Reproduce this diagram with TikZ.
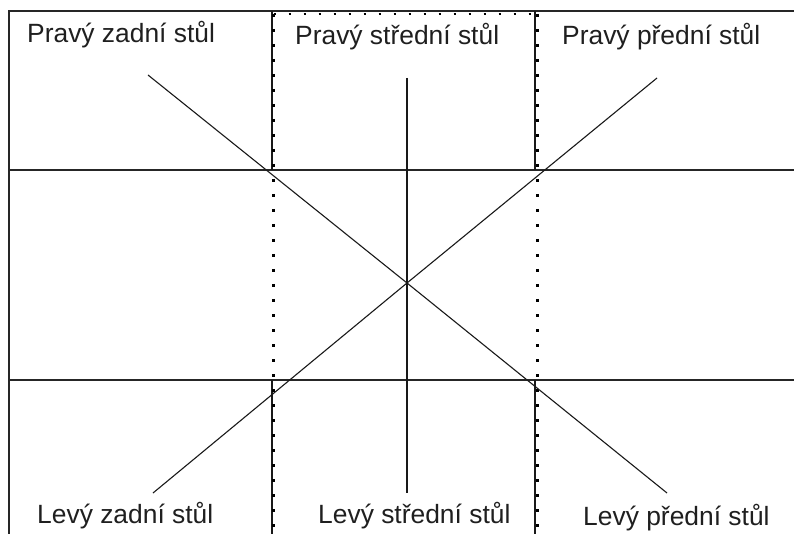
\documentclass[tikz,border=0pt]{standalone}
\usepackage{fontspec}
\setmainfont{Liberation Sans}
\begin{document}
\begin{tikzpicture}[x=1pt,y=-1pt,
  frame/.style={line width=2pt,color=black!85},
  hline/.style={line width=1.5pt,color=black!85},
  diag/.style={line width=1.1pt,color=black!90},
  sep/.style={line width=1.8pt,color=black!90},
  dots/.style={line width=2.6pt,color=black,dash pattern=on 2.6pt off 12.4pt},
  lbl/.style={anchor=base west,inner sep=0pt,font=\fontsize{26.4}{30}\selectfont,text=black!88}]
\useasboundingbox (0,0) rectangle (794,534);
% frame
\coordinate (tl) at (9,11);
\coordinate (tr) at (794,11);
\coordinate (bl) at (9,534);
\draw[frame] (tr) -- (tl) -- (bl);
% horizontal lines
\coordinate (h1l) at (9,170); \coordinate (h1r) at (794,170);
\coordinate (h2l) at (9,380); \coordinate (h2r) at (794,380);
\draw[hline] (h1l) -- (h1r);
\draw[hline] (h2l) -- (h2r);
% solid separators
\coordinate (a1) at (272,11); \coordinate (a2) at (272,170);
\coordinate (a3) at (272,380); \coordinate (a4) at (272,534);
\coordinate (b1) at (535,11); \coordinate (b2) at (535,170);
\coordinate (b3) at (535,380); \coordinate (b4) at (535,534);
\draw[sep] (a1) -- (a2); \draw[sep] (a3) -- (a4);
\draw[sep] (b1) -- (b2); \draw[sep] (b3) -- (b4);
% dotted lines
\coordinate (d1) at (273.5,14); \coordinate (d2) at (273.5,534);
\coordinate (e1) at (537.5,14); \coordinate (e2) at (537.5,534);
\coordinate (f1) at (273.5,14); \coordinate (f2) at (537.5,14);
\draw[dots] (d1) -- (d2);
\draw[dots] (e1) -- (e2);
\draw[dots] (f1) -- (f2);
% diagonals and centre
\coordinate (c) at (407,283);
\coordinate (p1) at (148,75); \coordinate (p2) at (667,493);
\coordinate (q1) at (657,78); \coordinate (q2) at (153,493);
\coordinate (v1) at (407,78); \coordinate (v2) at (407,493);
\draw[diag] (p1) -- (c) -- (p2);
\draw[diag] (q1) -- (c) -- (q2);
\draw[diag] (v1) -- (c) -- (v2);
% labels
\node[lbl] (pz) at (27,43) {Pravý zadní stůl};
\node[lbl] (ps) at (295,45) {Pravý střední stůl};
\node[lbl] (pp) at (562,45) {Pravý přední stůl};
\node[lbl] (lz) at (37,523) {Levý zadní stůl};
\node[lbl] (ls) at (318,523) {Levý střední stůl};
\node[lbl] (lp) at (583,525) {Levý přední stůl};
\end{tikzpicture}
\end{document}
